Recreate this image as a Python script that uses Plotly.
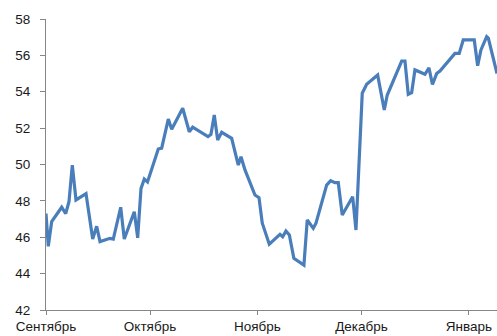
import plotly.graph_objects as go

# day offset from 1 September
days = [0.0, 0.66, 1.64, 4.53, 5.68, 6.63, 7.59, 8.65, 11.54, 13.47, 14.62, 15.58,
        18.46, 19.41, 21.55, 22.58, 25.47, 26.45, 27.4, 28.35, 29.28, 32.39, 33.37,
        34.53, 35.28, 36.26, 39.43, 41.33, 42.31, 46.73, 47.59, 48.54, 49.52, 50.68,
        53.56, 55.47, 56.25, 57.4, 60.28, 61.44, 62.39, 64.41, 67.5, 68.27, 69.22,
        70.2, 71.5, 74.4, 75.37, 77.1, 77.88, 80.96, 82.12, 83.36, 84.31, 85.46,
        88.46, 89.42, 91.23, 92.5, 95.67, 97.58, 98.44, 102.6, 103.55, 104.5, 105.48,
        106.43, 109.32, 110.47, 111.48, 112.69, 113.64, 117.97, 119.2, 120.36, 123.54,
        124.52, 125.47, 127.12, 127.6, 130.1]
values = [47.3, 45.5, 46.86, 47.65, 47.3, 47.95, 49.97, 48.05, 48.4, 45.9, 46.6, 45.76,
          45.94, 45.9, 47.65, 45.9, 47.4, 45.97, 48.67, 49.2, 49.04, 50.85, 50.9,
          51.99, 52.5, 51.94, 53.09, 51.8, 52.05, 51.53, 51.66, 52.72, 51.35, 51.77,
          51.44, 49.97, 50.43, 49.7, 48.32, 48.18, 46.77, 45.62, 46.16, 46.03, 46.34,
          46.13, 44.84, 44.47, 46.95, 46.49, 46.77, 48.87, 49.11, 49.0, 49.0, 47.22,
          48.23, 46.4, 53.92, 54.41, 54.92, 53.0, 53.82, 55.69, 55.69, 53.86, 53.95,
          55.2, 54.96, 55.31, 54.4, 55.0, 55.14, 56.11, 56.11, 56.85, 56.85,
          55.43, 56.3, 57.03, 56.95, 55.0]

month_days = [0, 30, 61, 91, 122]
month_labels = ["Сентябрь", "Октябрь", "Ноябрь", "Декабрь", "Январь"]
y_ticks = [42, 44, 46, 48, 50, 52, 54, 56, 58]

fig = go.Figure()
fig.add_trace(go.Scatter(x=days, y=values, mode="lines",
                         line=dict(color="#4A7EBB", width=3.2),
                         hoverinfo="skip", showlegend=False))

axis_font = dict(family="Liberation Sans, Arial, sans-serif", size=13.5, color="#1a1a1a")
fig.update_layout(
    width=497, height=336,
    margin=dict(l=46, r=0, t=19, b=26),
    paper_bgcolor="white", plot_bgcolor="white",
    xaxis=dict(range=[0, 130.1], tickvals=month_days, ticktext=month_labels,
               showgrid=False, zeroline=False, showline=True, linecolor="#868686",
               linewidth=1, ticks="outside", ticklen=4, tickcolor="#868686",
               tickfont=axis_font),
    yaxis=dict(range=[42, 58], tickvals=y_ticks, showgrid=False, zeroline=False,
               showline=True, linecolor="#868686", linewidth=1, ticks="outside",
               ticklen=5, tickcolor="#868686", tickfont=axis_font,
               ticklabelstandoff=7),
)
fig.write_html("out.html")
